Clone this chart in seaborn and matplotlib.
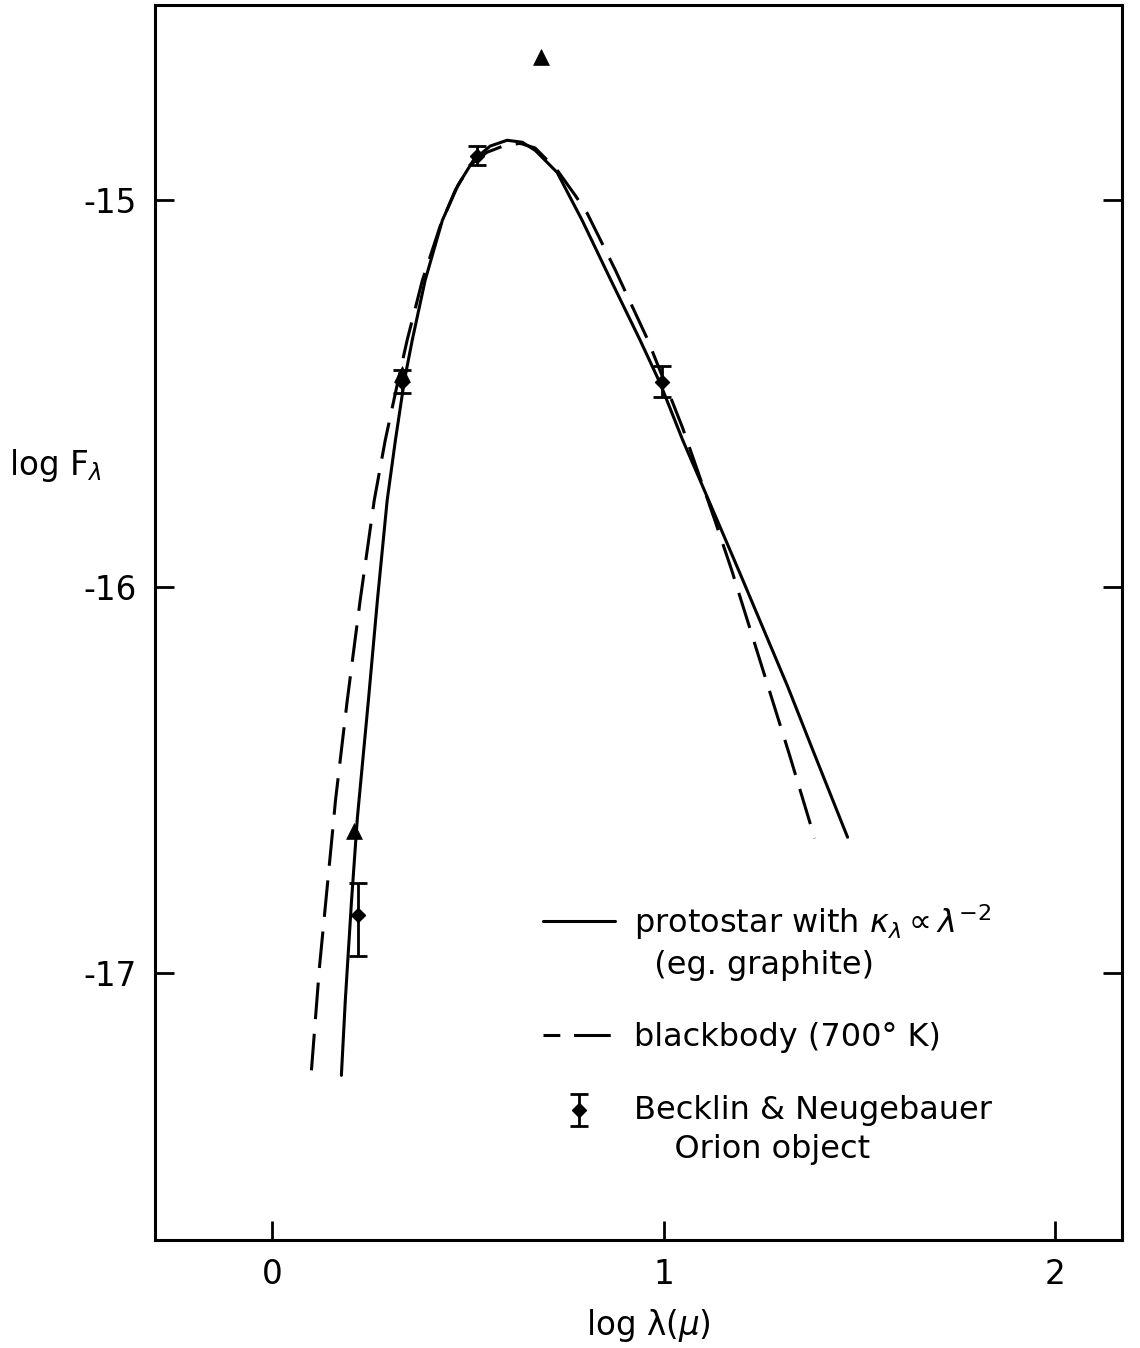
import numpy as np
import pandas as pd
import matplotlib
matplotlib.use("Agg")
import matplotlib.pyplot as plt
import seaborn as sns
from matplotlib.legend_handler import HandlerLine2D, HandlerErrorbar
from matplotlib.lines import Line2D

# ---------------- data ----------------
proto_logl = [0.176, 0.186, 0.202, 0.217, 0.245, 0.268, 0.293, 0.314, 0.337, 0.357,
              0.390, 0.434, 0.474, 0.513, 0.556, 0.599, 0.638, 0.671, 0.727, 0.791,
              0.862, 0.939, 0.990, 1.048, 1.092, 1.194, 1.316, 1.380, 1.469]
proto_logf = [-17.264, -17.070, -16.811, -16.596, -16.294, -16.035, -15.776, -15.621, -15.466, -15.362,
              -15.207, -15.052, -14.961, -14.897, -14.860, -14.845, -14.850, -14.871, -14.928, -15.052,
              -15.202, -15.362, -15.473, -15.621, -15.724, -15.965, -16.258, -16.422, -16.648]

bb_logl = [0.0995, 0.120, 0.153, 0.161, 0.191, 0.224, 0.260, 0.288, 0.321, 0.344,
           0.383, 0.429, 0.467, 0.505, 0.548, 0.594, 0.633, 0.671, 0.727, 0.773,
           0.804, 0.875, 0.959, 1.010, 1.048, 1.130, 1.173, 1.245, 1.321, 1.385]
bb_logf = [-17.251, -16.984, -16.638, -16.552, -16.294, -16.035, -15.776, -15.621, -15.466, -15.362,
           -15.207, -15.065, -14.974, -14.909, -14.876, -14.858, -14.853, -14.865, -14.922, -14.987,
           -15.034, -15.179, -15.362, -15.492, -15.590, -15.828, -15.957, -16.190, -16.436, -16.651]

obs_logl = [0.219, 0.332, 0.523, 0.995]
obs_logf = [-16.850, -15.470, -14.885, -15.470]
obs_err_lo = [0.106, 0.030, 0.025, 0.040]
obs_err_hi = [0.083, 0.030, 0.025, 0.040]

tri_logl = [0.207, 0.332, 0.686]
tri_logf = [-16.633, -15.450, -14.630]

xticks = [0, 1, 2]
xticklabels = ["0", "1", "2"]
yticks = [-15, -16, -17]
yticklabels = ["-15", "-16", "-17"]

label_proto = "protostar with $\\kappa_\\lambda \\propto \\lambda^{-2}$\n  (eg. graphite)"
label_bb = "blackbody (700° K)"
label_obs = "Becklin & Neugebauer\n    Orion object"

# ---------------- style ----------------
sns.set_theme(style="ticks")
plt.rcParams['font.family'] = ['DejaVu Sans']
plt.rcParams['axes.unicode_minus'] = False
plt.rcParams['mathtext.fontset'] = 'dejavusans'

fig = plt.figure(figsize=(11.4, 13.48), dpi=100)
ax = fig.add_axes([0.136, 0.0801, 0.8482, 0.9162])

proto_df = pd.DataFrame({"logl": proto_logl, "logf": proto_logf})
bb_df = pd.DataFrame({"logl": bb_logl, "logf": bb_logf})

sns.lineplot(data=proto_df, x="logl", y="logf", sort=False, estimator=None,
             color="black", lw=2.2, ax=ax)
sns.lineplot(data=bb_df, x="logl", y="logf", sort=False, estimator=None,
             color="black", lw=2.2, ax=ax)
ax.lines[-1].set_dashes([12, 4.8])

sns.scatterplot(x=tri_logl, y=tri_logf, marker="^", s=130, color="black",
                edgecolor="black", linewidth=0.5, ax=ax, zorder=4)

err = ax.errorbar(obs_logl, obs_logf, yerr=[obs_err_lo, obs_err_hi], fmt="D",
                  color="black", ms=7.5, capsize=6.5, elinewidth=2, capthick=2,
                  zorder=5)

ax.set_xlim(-0.3, 2.17)
ax.set_ylim(-17.69, -14.495)
ax.set_xticks(xticks)
ax.set_xticklabels(xticklabels)
ax.set_yticks(yticks)
ax.set_yticklabels(yticklabels)
ax.tick_params(direction="in", length=14, width=2, labelsize=23.5, pad=13,
               right=True, top=False, colors="black")
for sp in ax.spines.values():
    sp.set_linewidth(2.2)
    sp.set_color("black")

ax.set_xlabel("log λ($\\mu$)", fontsize=23.5, color="black")
ax.xaxis.set_label_coords(0.51, -0.069)
ax.xaxis.label.set_va("center")
ax.set_ylabel("log F$_\\lambda$", fontsize=23.5, rotation=0, color="black")
ax.yaxis.set_label_coords(-0.103, 0.6275)
ax.yaxis.label.set_va("center")
ax.yaxis.label.set_ha("center")


# ---------------- legend ----------------
class ShiftLine(HandlerLine2D):
    def __init__(self, shift, **kw):
        super().__init__(**kw)
        self.shift = shift

    def create_artists(self, legend, orig_handle, xdescent, ydescent, width,
                       height, fontsize, trans):
        return super().create_artists(legend, orig_handle, xdescent,
                                      ydescent - self.shift * fontsize,
                                      width, height, fontsize, trans)


class ShiftErr(HandlerErrorbar):
    def __init__(self, shift, **kw):
        super().__init__(**kw)
        self.shift = shift

    def create_artists(self, legend, orig_handle, xdescent, ydescent, width,
                       height, fontsize, trans):
        return super().create_artists(legend, orig_handle, xdescent,
                                      ydescent - self.shift * fontsize,
                                      width, height, fontsize, trans)


h_proto = Line2D([], [], color="black", lw=2.2)
h_bb = Line2D([], [], color="black", lw=2.2, linestyle=(6.5, (12, 4.5)))

leg = ax.legend([h_proto, h_bb, err], [label_proto, label_bb, label_obs],
                loc="lower left", bbox_to_anchor=(0.401, 0.061),
                frameon=False, fontsize=23, handlelength=2.25,
                handletextpad=0.6, labelspacing=1.3, borderpad=0,
                borderaxespad=0,
                handler_map={h_proto: ShiftLine(1.32),
                             err: ShiftErr(1.32, xerr_size=0.3, yerr_size=0.5)})
for t in leg.get_texts():
    t.set_linespacing(1.32)
    t.set_color("black")

fig.savefig("out.png", dpi=100, facecolor="white")
